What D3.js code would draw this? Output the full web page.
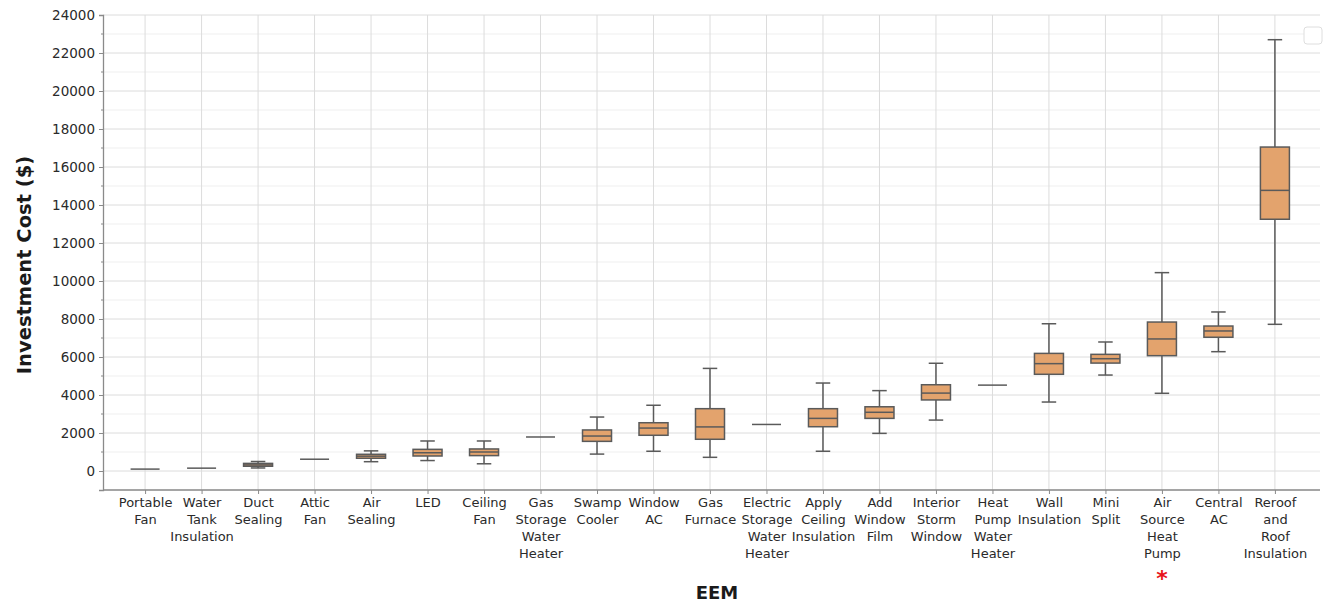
<!DOCTYPE html>
<html><head><meta charset="utf-8">
<script src="https://cdn.jsdelivr.net/npm/d3@7"></script>
<style>body{margin:0;background:#fff;} svg{display:block;}</style>
</head><body>
<svg id="c" width="1323" height="603"></svg>
<script>
const categories = [
  ["Portable","Fan"],["Water","Tank","Insulation"],["Duct","Sealing"],["Attic","Fan"],["Air","Sealing"],
  ["LED"],["Ceiling","Fan"],["Gas","Storage","Water","Heater"],["Swamp","Cooler"],["Window","AC"],
  ["Gas","Furnace"],["Electric","Storage","Water","Heater"],["Apply","Ceiling","Insulation"],["Add","Window","Film"],
  ["Interior","Storm","Window"],["Heat","Pump","Water","Heater"],["Wall","Insulation"],["Mini","Split"],
  ["Air","Source","Heat","Pump"],["Central","AC"],["Reroof","and","Roof","Insulation"]
];
const whiskerLow  = [100,150,160,620,490,550,380,1790,890,1040,720,2450,1040,1980,2680,4520,3630,5050,4090,6280,7720];
const q1          = [100,150,250,620,670,790,810,1790,1560,1880,1670,2450,2330,2770,3740,4520,5090,5680,6070,7040,13250];
const median      = [100,150,320,620,780,960,1000,1790,1840,2260,2320,2450,2770,3090,4100,4520,5650,5910,6950,7370,14770];
const q3          = [100,150,400,620,880,1140,1160,1790,2160,2540,3280,2450,3280,3380,4540,4520,6190,6140,7840,7630,17050];
const whiskerHigh = [100,150,500,620,1060,1580,1580,1790,2840,3460,5400,2450,4630,4230,5670,4520,7750,6790,10440,8370,22700];
const yTicks = [0,2000,4000,6000,8000,10000,12000,14000,16000,18000,20000,22000,24000];
const markedCategory = 18;

(function(){
const svg = d3.select("#c");
const pL = 103, pR = 1320, pT = 15, pB = 490;
const y = d3.scaleLinear().domain([-1000, 24000]).range([pB, pT]);
const keys = categories.map((d,i)=>i);
const x = d3.scalePoint().domain(keys).range([pL, 1317]).padding(0.745);
const boxW = 29;
const font = "DejaVu Sans, sans-serif";

const minor = d3.range(-1000, 24001, 1000).filter(v => v % 2000 !== 0);
svg.append("g").selectAll("line").data(minor).join("line")
  .attr("x1", pL).attr("x2", pR).attr("y1", d=>y(d)).attr("y2", d=>y(d))
  .attr("stroke", "#efefef").attr("stroke-width", 1);
svg.append("g").selectAll("line").data(yTicks).join("line")
  .attr("x1", pL).attr("x2", pR).attr("y1", d=>y(d)).attr("y2", d=>y(d))
  .attr("stroke", "#dcdcdc").attr("stroke-width", 1);
svg.append("g").selectAll("line").data(keys).join("line")
  .attr("x1", d=>x(d)).attr("x2", d=>x(d)).attr("y1", pT).attr("y2", pB)
  .attr("stroke", "#dcdcdc").attr("stroke-width", 1);

const yAxis = svg.append("g").attr("transform", `translate(${pL},0)`)
  .call(d3.axisLeft(y).tickValues(yTicks).tickSize(4).tickPadding(4).tickFormat(d3.format("d")));
yAxis.select(".domain").attr("stroke", "#8a8a8a").attr("stroke-width", 1.3);
yAxis.selectAll(".tick line").attr("stroke", "#8a8a8a");
yAxis.selectAll("text").attr("font-family", font).attr("font-size", 13.5).attr("fill", "#2a2a2a");
svg.append("g").selectAll("line").data(minor.filter(v=>v>=0)).join("line")
  .attr("x1", pL-2).attr("x2", pL).attr("y1", d=>y(d)).attr("y2", d=>y(d))
  .attr("stroke", "#8a8a8a");

const xAxis = svg.append("g").attr("transform", `translate(0,${pB})`)
  .call(d3.axisBottom(x).tickSize(4).tickFormat(""));
xAxis.select(".domain").attr("stroke", "#8a8a8a").attr("stroke-width", 1.3).attr("d", `M${pL},0H${pR}`);
xAxis.selectAll(".tick line").attr("stroke", "#8a8a8a");
xAxis.selectAll(".tick").each(function(d){
  const t = d3.select(this).append("text").attr("font-family", font).attr("font-size", 13)
    .attr("fill", "#2a2a2a").attr("text-anchor", "middle");
  categories[d].forEach((ln, j) => t.append("tspan").attr("x", 0).attr("y", 17 + j*17).text(ln));
});

const g = svg.append("g");
keys.forEach(i => {
  const cx = x(i);
  const stroke = "#5a5a5a";
  g.append("line").attr("x1", cx).attr("x2", cx).attr("y1", y(whiskerHigh[i])).attr("y2", y(q3[i])).attr("stroke", stroke).attr("stroke-width", 1.5);
  g.append("line").attr("x1", cx).attr("x2", cx).attr("y1", y(q1[i])).attr("y2", y(whiskerLow[i])).attr("stroke", stroke).attr("stroke-width", 1.5);
  if (whiskerHigh[i] !== q3[i]) {
    g.append("line").attr("x1", cx-boxW/4).attr("x2", cx+boxW/4).attr("y1", y(whiskerHigh[i])).attr("y2", y(whiskerHigh[i])).attr("stroke", stroke).attr("stroke-width", 1.5);
    g.append("line").attr("x1", cx-boxW/4).attr("x2", cx+boxW/4).attr("y1", y(whiskerLow[i])).attr("y2", y(whiskerLow[i])).attr("stroke", stroke).attr("stroke-width", 1.5);
  }
  g.append("rect").attr("x", cx-boxW/2).attr("width", boxW)
    .attr("y", y(q3[i])).attr("height", Math.max(0, y(q1[i]) - y(q3[i])))
    .attr("fill", "#e3a36d").attr("stroke", stroke).attr("stroke-width", 1.5);
  g.append("line").attr("x1", cx-boxW/2).attr("x2", cx+boxW/2).attr("y1", y(median[i])).attr("y2", y(median[i])).attr("stroke", stroke).attr("stroke-width", 1.5);
});

svg.append("text").attr("x", x(markedCategory)).attr("y", 586).attr("text-anchor", "middle")
  .attr("font-family", font).attr("font-weight", "bold").attr("font-size", 22).attr("fill", "#e8141c").text("*");

svg.append("text").attr("transform", "translate(31,265) rotate(-90)").attr("text-anchor", "middle")
  .attr("font-family", font).attr("font-weight", "bold").attr("font-size", 19.5).attr("fill", "#1a1a1a").text("Investment Cost ($)");
svg.append("text").attr("x", 717).attr("y", 599).attr("text-anchor", "middle")
  .attr("font-family", font).attr("font-weight", "bold").attr("font-size", 18).attr("fill", "#1a1a1a").text("EEM");

svg.append("rect").attr("x", 1304).attr("y", 27).attr("width", 18).attr("height", 17).attr("rx", 3)
  .attr("fill", "#fff").attr("stroke", "#dedede").attr("stroke-width", 1);
})();
</script>
</body></html>
